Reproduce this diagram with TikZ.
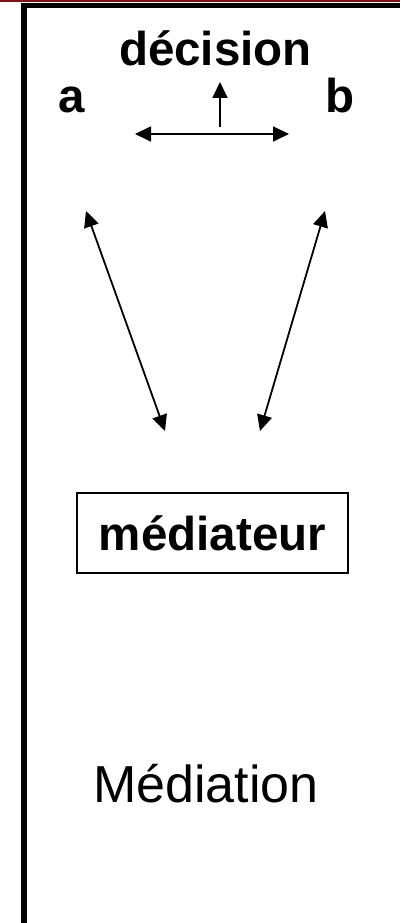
\documentclass[tikz,border=0pt]{standalone}
\usepackage{fontspec}
\setmainfont{Liberation Sans}
\usetikzlibrary{arrows.meta}
\definecolor{darkred}{RGB}{125,22,22}
\tikzset{
	fleche/.style={line width=1.8pt, {Triangle[length=16pt,width=15pt]}-{Triangle[length=16pt,width=15pt]}},
	gras/.style={font=\fontsize{47.5}{57}\selectfont\bfseries, inner sep=0pt, anchor=base}
}
\begin{document}
\begin{tikzpicture}[x=1pt, y=-1pt]
		%%%%% START %%%%%
		\useasboundingbox (0, 0) rectangle (400, 923);
		
		\fill[darkred] (0, 0) rectangle (400, 2.2);
		\fill[black] (21, 3) rectangle (400, 8);
		\fill[black] (21, 3) rectangle (26.5, 923);
		
		\node[gras] (decision) at (215.5, 66) {décision};
		\node[gras] (a) at (71.5, 113) {a};
		\node[gras] (b) at (340.5, 113) {b};
		
		\coordinate (gauche) at (135, 134);
		\coordinate (droite) at (289, 134);
		\coordinate (milieu) at (220, 127);
		\coordinate (haut) at (220, 82);
		\draw[fleche] (gauche) -- (droite);
		\draw[line width=1.8pt, -{Triangle[length=16pt,width=15pt]}] (milieu) -- (haut);
		
		\node[draw, line width=1.4pt, minimum width=271pt, minimum height=80pt,
			font=\fontsize{47.5}{57}\selectfont\bfseries] (mediateur) at (212.5, 533) {médiateur};
		
		\coordinate (a1) at (86, 211);
		\coordinate (a2) at (165, 431);
		\coordinate (b1) at (325, 211);
		\coordinate (b2) at (260, 431);
		\draw[fleche] (a1) -- (a2);
		\draw[fleche] (b1) -- (b2);
		
		\node[font=\fontsize{52}{62}\selectfont, inner sep=0pt, anchor=base] (mediation) at (206, 802) {Médiation};
		%%%%% END %%%%%
	\end{tikzpicture}
\end{document}
